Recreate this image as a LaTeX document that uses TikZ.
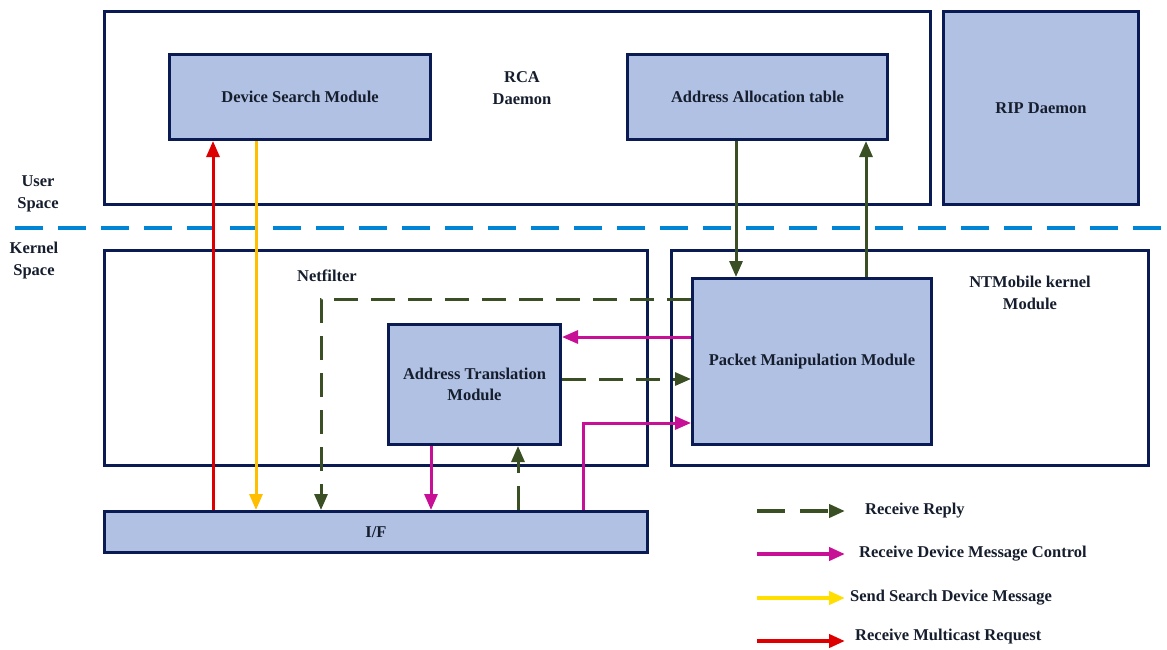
\documentclass[tikz,border=0pt]{standalone}
\usepackage{fontspec}
\setmainfont{Liberation Serif}
\usetikzlibrary{arrows.meta}

\definecolor{navy}{RGB}{10,26,82}
\definecolor{boxfill}{RGB}{177,193,228}
\definecolor{txt}{RGB}{22,30,46}
\definecolor{dgreen}{RGB}{58,80,36}
\definecolor{mag}{RGB}{200,16,150}
\definecolor{amber}{RGB}{255,190,0}
\definecolor{lyellow}{RGB}{255,222,0}
\definecolor{rred}{RGB}{222,0,0}
\definecolor{sepblue}{RGB}{0,132,212}

\newcommand\lblfont{\fontsize{16.5}{22}\selectfont\bfseries}

\begin{document}
\begin{tikzpicture}[x=1pt,y=-1pt,
  frame/.style={draw=navy,line width=3pt,fill=white,inner sep=0pt},
  box/.style={draw=navy,line width=3pt,fill=boxfill,inner sep=0pt,
              text=txt,font=\lblfont,align=center},
  lbl/.style={text=txt,font=\lblfont,align=center,inner sep=0pt},
  tip/.style={-{Triangle[length=16pt,width=13pt]}},
  flow/.style={tip,line width=3pt},
  reply/.style={flow,draw=dgreen,dash pattern=on 24pt off 13pt},
  solidreply/.style={flow,draw=dgreen},
  ctrl/.style={flow,draw=mag},
  search/.style={flow,draw=amber},
  mcast/.style={flow,draw=rred},
  legline/.style={tip,line width=4pt}]

\useasboundingbox (0,0) rectangle (1167,649);

% container frames
\node[frame,minimum width=826pt,minimum height=193pt] (rca) at (517.5,108) {};
\node[frame,minimum width=543pt,minimum height=215pt] (net) at (376,358) {};
\node[frame,minimum width=477pt,minimum height=215pt] (ntm) at (910,358) {};

% modules
\node[box,minimum width=195pt,minimum height=193pt] (rip) at (1041,108) {RIP Daemon};
\node[box,minimum width=261pt,minimum height=85pt] (dsm) at (300,97) {Device Search Module};
\node[box,minimum width=260pt,minimum height=85pt] (aat) at (757.5,97) {Address Allocation table};
\node[box,minimum width=239pt,minimum height=166pt] (pmm) at (812,361.5) {Packet Manipulation Module};
\node[box,minimum width=172pt,minimum height=120pt] (atm) at (474.5,384.5) {Address Translation\\[-1pt]Module};
\node[box,minimum width=543pt,minimum height=41pt] (if) at (376,532) {I/F};

% frame labels
\node[lbl] (rcalbl) at (522,88) {RCA\\Daemon};
\node[lbl] (netlbl) at (327,276) {Netfilter};
\node[lbl] (ntmlbl) at (1030,293) {NTMobile kernel\\Module};
\node[lbl] (userlbl) at (38,194) {User\\Space};
\node[lbl] (kernlbl) at (34,261) {Kernel\\Space};

% user / kernel boundary
\coordinate (sepL) at (15,228);
\coordinate (sepR) at (1167,228);
\draw[sepblue,line width=4pt,dash pattern=on 28pt off 15pt] (sepL) -- (sepR);

% guide positions for the connectors
\coordinate (xRed) at (213,0);
\coordinate (xAmb) at (256,0);
\coordinate (xDown) at (736,0);
\coordinate (xUp) at (866,0);
\coordinate (xLoop) at (321,0);
\coordinate (xAtmDn) at (431,0);
\coordinate (xAtmUp) at (518,0);
\coordinate (xIfUp) at (583,0);
\coordinate (yTop) at (0,299);
\coordinate (yBack) at (0,337);
\coordinate (yFwd) at (0,379);
\coordinate (yIn) at (0,423);

% multicast request and device search
\draw[mcast] (xRed |- if.north) -- (xRed |- dsm.south);
\draw[search] (xAmb |- dsm.south) -- (xAmb |- if.north);

% allocation table <-> packet manipulation
\draw[solidreply] (xDown |- aat.south) -- (xDown |- pmm.north);
\draw[solidreply] (xUp |- pmm.north) -- (xUp |- aat.south);

% replies
\draw[reply] (pmm.west |- yTop) -- (xLoop |- yTop) -- (xLoop |- if.north);
\draw[reply] (atm.east |- yFwd) -- (pmm.west |- yFwd);
\draw[reply] (xAtmUp |- if.north) -- (xAtmUp |- atm.south);

% device message control
\draw[ctrl] (pmm.west |- yBack) -- (atm.east |- yBack);
\draw[ctrl] (xAtmDn |- atm.south) -- (xAtmDn |- if.north);
\draw[ctrl] (xIfUp |- if.north) -- (xIfUp |- yIn) -- (pmm.west |- yIn);

% legend
\coordinate (lgA1) at (757,511); \coordinate (lgB1) at (845,511);
\coordinate (lgA2) at (757,554); \coordinate (lgB2) at (845,554);
\coordinate (lgA3) at (757,598); \coordinate (lgB3) at (845,598);
\coordinate (lgA4) at (757,641); \coordinate (lgB4) at (845,641);
\draw[legline,dgreen,dash pattern=on 28pt off 15pt] (lgA1) -- (lgB1);
\draw[legline,mag] (lgA2) -- (lgB2);
\draw[legline,lyellow] (lgA3) -- (lgB3);
\draw[legline,rred] (lgA4) -- (lgB4);
\node[lbl,anchor=west] (lg1) at (865,511) {Receive Reply};
\node[lbl,anchor=west] (lg2) at (859,554) {Receive Device Message Control};
\node[lbl,anchor=west] (lg3) at (850,598) {Send Search Device Message};
\node[lbl,anchor=west] (lg4) at (855,637) {Receive Multicast Request};
\end{tikzpicture}
\end{document}
